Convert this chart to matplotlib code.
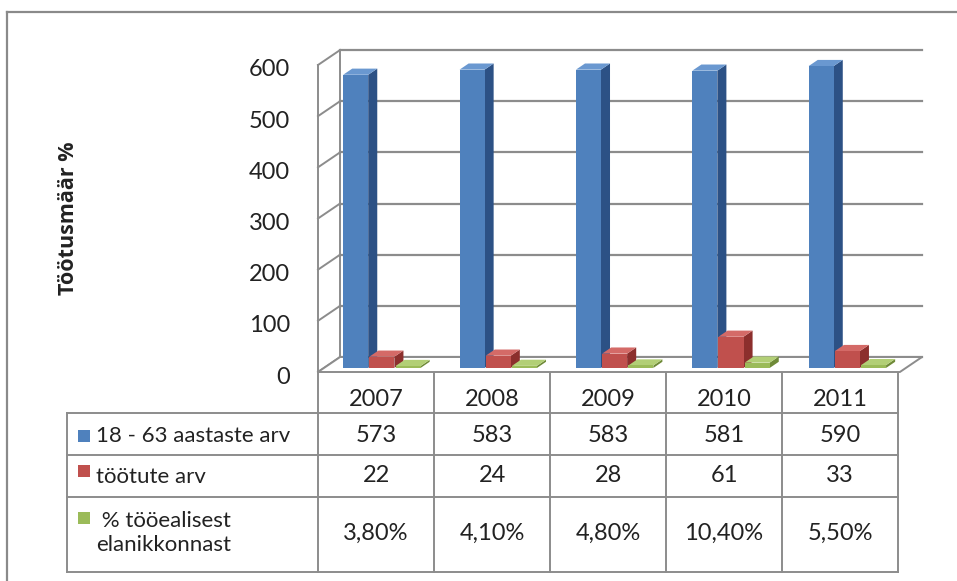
import numpy as np
import matplotlib.pyplot as plt
from matplotlib.patches import Polygon, Rectangle
from matplotlib.transforms import ScaledTranslation

years = ['2007', '2008', '2009', '2010', '2011']
pop_18_63 = [573, 583, 583, 581, 590]
unemployed = [22, 24, 28, 61, 33]
pct_working_age = [3.8, 4.1, 4.8, 10.4, 5.5]
pct_labels = ['3,80%', '4,10%', '4,80%', '10,40%', '5,50%']
series_names = ['18 - 63 aastaste arv', 'töötute arv', ' % tööealisest\nelanikkonnast']
yticks = [0, 100, 200, 300, 400, 500, 600]

plt.rcParams['font.family'] = ['Lato', 'DejaVu Sans']
txt = '#222222'
grid_c = '#8c8c8c'
fs = 16
fs_num = 17

fig = plt.figure(figsize=(9.57, 5.81), dpi=100)

# pixel helper axes for the frame and the data table
bg = fig.add_axes([0, 0, 1, 1])
bg.set_xlim(0, 957)
bg.set_ylim(581, 0)
bg.axis('off')

# 3d box: axes holds front plane plus depth offset
DX = 0.19
DY = 29.3
ax = fig.add_axes([318 / 957, 1 - 372 / 581, 604 / 957, 322 / 581])
ax.set_xlim(0, 5 + DX)
ax.set_ylim(0, 600 + DY)
for s in ax.spines.values():
    s.set_visible(False)
ax.set_xticks([])
ax.set_yticks(yticks)
ax.set_yticklabels([str(t) for t in yticks], fontsize=fs_num, color=txt)
ax.tick_params(axis='y', length=0, pad=20)
for lab in ax.get_yticklabels():
    lab.set_transform(lab.get_transform() + ScaledTranslation(0, -0.03, fig.dpi_scale_trans))
ax.patch.set_alpha(0)


def P(x, v, d):
    return (x + d * DX, v + d * DY)


n = len(years)
# back wall and side wall gridlines
for v in yticks:
    xs, ys = zip(P(0, v, 1), P(n, v, 1))
    ax.plot(xs, ys, color=grid_c, lw=1.6, zorder=1, clip_on=False)
    xs, ys = zip(P(0, v, 0), P(0, v, 1))
    ax.plot(xs, ys, color=grid_c, lw=1.4, zorder=1, clip_on=False)
for d in (0, 1):
    xs, ys = zip(P(0, 0, d), P(0, 600, d))
    ax.plot(xs, ys, color=grid_c, lw=1.4, zorder=1, clip_on=False)
floor = Polygon([P(0, 0, 0), P(n, 0, 0), P(n, 0, 1), P(0, 0, 1)], closed=True,
                facecolor='white', edgecolor=grid_c, lw=1.4, zorder=1.5, clip_on=False)
ax.add_patch(floor)

W = 0.215
starts = [0.165, 0.39, 0.615]
D0, D1 = 0.27, 0.68
colors = [('#4f81bd', '#2c5185', '#6a98d0'),
          ('#c0504d', '#8c2f2d', '#d46a67'),
          ('#9bbb59', '#6f8a38', '#b2cf76')]
values = [pop_18_63, unemployed, pct_working_age]

for i in range(n):
    for s in range(3):
        v = values[s][i]
        x0 = i + starts[s]
        x1 = x0 + W
        front, side, top = colors[s]
        z = 3 + i * 3 + s
        ax.add_patch(Polygon([P(x1, 0, D0), P(x1, 0, D1), P(x1, v, D1), P(x1, v, D0)],
                             closed=True, facecolor=side, edgecolor='none', zorder=z, clip_on=False))
        ax.add_patch(Polygon([P(x0, v, D0), P(x1, v, D0), P(x1, v, D1), P(x0, v, D1)],
                             closed=True, facecolor=top, edgecolor='none', zorder=z, clip_on=False))
        ax.add_patch(Polygon([P(x0, 0, D0), P(x1, 0, D0), P(x1, v, D0), P(x0, v, D0)],
                             closed=True, facecolor=front, edgecolor='none', zorder=z, clip_on=False))

# outer chart border
bg.plot([7, 7], [12, 581], color='#8a8a8a', lw=1.6)
bg.plot([7, 957], [12, 12], color='#8a8a8a', lw=1.6)

# y label
bg.text(68, 218, 'Töötusmäär %', rotation=90, ha='center', va='center',
        fontsize=15.5, fontweight='bold', family=['Open Sans', 'DejaVu Sans'], color=txt)

# data table
col_x = [318 + 116 * k for k in range(n + 1)]
row_y = [413, 455, 497, 572]
for x in col_x:
    bg.plot([x, x], [372, 572], color=grid_c, lw=1.4)
for y in row_y:
    bg.plot([67, col_x[-1]], [y, y], color=grid_c, lw=1.4)
bg.plot([67, 67], [413, 572], color=grid_c, lw=1.4)

for k, yr in enumerate(years):
    cx = (col_x[k] + col_x[k + 1]) / 2
    bg.text(cx, 400, yr, ha='center', va='center', fontsize=fs_num, color=txt)
    bg.text(cx, 435, str(pop_18_63[k]), ha='center', va='center', fontsize=fs_num, color=txt)
    bg.text(cx, 476, str(unemployed[k]), ha='center', va='center', fontsize=fs_num, color=txt)
    bg.text(cx, 533, pct_labels[k], ha='center', va='center', fontsize=fs_num, color=txt)

label_y = [436, 477, 533]
key_y = [436, 471, 518]
for s in range(3):
    bg.add_patch(Rectangle((78, key_y[s] - 6), 12, 12, facecolor=colors[s][0], edgecolor='none'))
    bg.text(96, label_y[s], series_names[s], ha='left', va='center', fontsize=fs,
            color=txt, linespacing=1.25)

fig.savefig('out.png', dpi=100)
